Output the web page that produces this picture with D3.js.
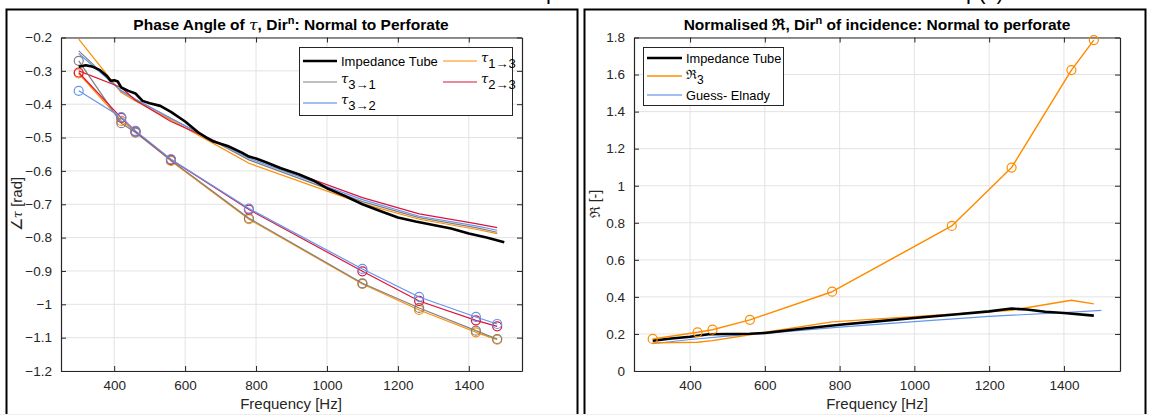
<!DOCTYPE html>
<html><head><meta charset="utf-8">
<script src="https://cdn.jsdelivr.net/npm/d3@7"></script>
<style>body{margin:0;background:#fff;} svg{display:block;} text{font-family:Arial,"Liberation Sans",Helvetica,sans-serif;}</style>
</head><body>
<svg id="c" width="1149" height="415"></svg>
<script>
// ---------- DATA ----------
const freqs = [300, 420, 460, 560, 780, 1100, 1260, 1420, 1480];
const xTicks = [400, 600, 800, 1000, 1200, 1400];
const yTicksLeft = [-1.2, -1.1, -1, -0.9, -0.8, -0.7, -0.6, -0.5, -0.4, -0.3, -0.2];
const yTicksRight = [0, 0.2, 0.4, 0.6, 0.8, 1, 1.2, 1.4, 1.6, 1.8];

// Left panel: impedance tube phase
const tubeFreqL = [300,320,340,360,380,390,400,410,420,440,460,480,500,530,560,600,640,660,680,720,760,780,800,830,870,920,960,1000,1050,1100,1150,1200,1250,1300,1350,1400,1450,1500];
const tubePhase = [-0.288,-0.283,-0.288,-0.298,-0.316,-0.330,-0.328,-0.332,-0.350,-0.360,-0.368,-0.390,-0.397,-0.405,-0.423,-0.452,-0.487,-0.500,-0.512,-0.525,-0.545,-0.557,-0.563,-0.575,-0.592,-0.610,-0.628,-0.652,-0.675,-0.700,-0.720,-0.740,-0.752,-0.762,-0.773,-0.788,-0.800,-0.814];
// upper group (no markers)
const tau13Up = [-0.205,-0.365,-0.390,-0.447,-0.577,-0.698,-0.745,-0.775,-0.788];
const tau31Up = [-0.240,-0.360,-0.385,-0.442,-0.567,-0.692,-0.740,-0.770,-0.784];
const tau32Up = [-0.248,-0.360,-0.385,-0.443,-0.562,-0.686,-0.736,-0.765,-0.778];
const tau23Up = [-0.300,-0.350,-0.388,-0.452,-0.556,-0.680,-0.729,-0.758,-0.770];
// lower group (with markers)
const tau13Lo = [-0.308,-0.450,-0.483,-0.570,-0.745,-0.939,-1.017,-1.084,-1.106];
const tau31Lo = [-0.270,-0.457,-0.485,-0.568,-0.742,-0.937,-1.011,-1.079,-1.104];
const tau32Lo = [-0.360,-0.439,-0.480,-0.565,-0.713,-0.894,-0.978,-1.038,-1.059];
const tau23Lo = [-0.305,-0.441,-0.481,-0.566,-0.716,-0.901,-0.990,-1.048,-1.066];

// Right panel
const tubeFreqR = [300,350,400,450,500,560,600,700,800,900,1000,1100,1200,1260,1300,1350,1400,1480];
const tubeRe = [0.164,0.175,0.185,0.198,0.200,0.201,0.205,0.228,0.250,0.268,0.286,0.304,0.322,0.337,0.332,0.320,0.313,0.299];
const re3 = [0.173,0.209,0.223,0.276,0.428,0.783,1.098,1.624,1.786];
const re3b = [0.152,0.155,0.164,0.196,0.265,0.307,0.328,0.382,0.362];
const guessFreq = [300,400,500,600,800,1000,1200,1400,1500];
const guessRe = [0.147,0.170,0.188,0.203,0.237,0.267,0.295,0.315,0.327];

const C = {black:"#000000", orange:"#FF8C00", gray:"#808080", crimson:"#DC143C", blue:"#6495ED"};
const axisCol = "#262626";

const svg = d3.select("#c");

// top cut-off caption glyphs (cropped in the reference as well)
svg.append("text").attr("x",546).attr("y",-1).attr("font-family","'DejaVu Serif',serif").attr("font-size",22).text("p");
svg.append("text").attr("x",966).attr("y",-1).attr("font-family","'DejaVu Serif',serif").attr("font-size",22).text("p(c)");

// panel frames
svg.append("rect").attr("x",6.5).attr("y",9.5).attr("width",571).attr("height",420).attr("fill","none").attr("stroke","#000").attr("stroke-width",2);
svg.append("rect").attr("x",584.5).attr("y",9.5).attr("width",561).attr("height",420).attr("fill","none").attr("stroke","#000").attr("stroke-width",2);

function panel(opt){
  const g = svg.append("g");
  const x = d3.scaleLinear().domain([250,1550]).range([opt.x0,opt.x1]);
  const y = d3.scaleLinear().domain(opt.yd).range([371,37.5]);
  g.append("g").selectAll("line").data(xTicks).join("line")
    .attr("x1",d=>x(d)).attr("x2",d=>x(d)).attr("y1",37.5).attr("y2",371)
    .attr("stroke","#e3e3e3").attr("stroke-width",1);
  g.append("g").selectAll("line").data(opt.yt).join("line")
    .attr("x1",opt.x0).attr("x2",opt.x1).attr("y1",d=>y(d)).attr("y2",d=>y(d))
    .attr("stroke","#e3e3e3").attr("stroke-width",1);
  const fmt = d=>d3.format("~g")(+d.toFixed(2));
  const ab = g.append("g").attr("transform","translate(0,371)").call(d3.axisBottom(x).tickValues(xTicks).tickSizeInner(-5).tickSizeOuter(0).tickPadding(9).tickFormat(d3.format("d")));
  const at = g.append("g").attr("transform","translate(0,37.5)").call(d3.axisTop(x).tickValues(xTicks).tickSizeInner(-5).tickSizeOuter(0).tickFormat(""));
  const al = g.append("g").attr("transform",`translate(${opt.x0},0)`).call(d3.axisLeft(y).tickValues(opt.yt).tickSizeInner(-5).tickSizeOuter(0).tickPadding(9).tickFormat(fmt));
  const ar = g.append("g").attr("transform",`translate(${opt.x1},0)`).call(d3.axisRight(y).tickValues(opt.yt).tickSizeInner(-5).tickSizeOuter(0).tickFormat(""));
  [ab,at,al,ar].forEach(a=>{
    a.select(".domain").attr("stroke",axisCol).attr("stroke-width",1.2);
    a.selectAll(".tick line").attr("stroke",axisCol);
    a.selectAll(".tick text").attr("fill",axisCol).attr("font-size",13.5).attr("font-family","Arial,'Liberation Sans',sans-serif");
  });
  return {g,x,y};
}

function drawLine(p, xs, ys, color, w, markers){
  const data = xs.map((f,i)=>[f,ys[i]]);
  p.g.append("path").datum(data).attr("fill","none").attr("stroke",color).attr("stroke-width",w)
    .attr("stroke-linejoin","round").attr("d",d3.line().x(d=>p.x(d[0])).y(d=>p.y(d[1])));
  if(markers){
    p.g.append("g").selectAll("circle").data(data).join("circle")
      .attr("cx",d=>p.x(d[0])).attr("cy",d=>p.y(d[1])).attr("r",4.5)
      .attr("fill","none").attr("stroke",color).attr("stroke-width",1.2);
  }
}

// ---------- LEFT ----------
const L = panel({x0:61, x1:522, yd:[-1.2,-0.2], yt:yTicksLeft});
drawLine(L, freqs, tau13Up, C.orange, 1.2, false);
drawLine(L, freqs, tau31Up, C.gray, 1.2, false);
drawLine(L, freqs, tau32Up, C.blue, 1.2, false);
drawLine(L, freqs, tau23Up, C.crimson, 1.2, false);
drawLine(L, freqs, tau13Lo, C.orange, 1.2, true);
drawLine(L, freqs, tau31Lo, C.gray, 1.2, true);
drawLine(L, freqs, tau23Lo, C.crimson, 1.2, true);
drawLine(L, freqs, tau32Lo, C.blue, 1.2, true);
drawLine(L, tubeFreqL, tubePhase, C.black, 2.6, false);

const t1 = svg.append("text").attr("x",291).attr("y",30).attr("text-anchor","middle").attr("font-size",15.5).attr("font-weight","bold");
t1.append("tspan").text("Phase Angle of ");
t1.append("tspan").attr("font-family","'DejaVu Serif',serif").attr("font-style","italic").attr("font-weight","normal").text("τ");
t1.append("tspan").text(", Dir");
t1.append("tspan").attr("font-size",11).attr("dy",-6).text("n");
t1.append("tspan").attr("dy",6).text(": Normal to Perforate");

svg.append("text").attr("x",291).attr("y",409).attr("text-anchor","middle").attr("font-size",15).attr("fill",axisCol).text("Frequency [Hz]");
const yl = svg.append("text").attr("transform","translate(22,204) rotate(-90)").attr("text-anchor","middle").attr("font-size",15).attr("fill",axisCol);
yl.append("tspan").text("∠");
yl.append("tspan").attr("font-family","'DejaVu Serif',serif").attr("font-style","italic").attr("font-size",13).text("τ");
yl.append("tspan").text(" [rad]");

// left legend
const lg = svg.append("g");
lg.append("rect").attr("x",299.5).attr("y",47.5).attr("width",213).attr("height",68).attr("fill","#fff").attr("stroke",axisCol).attr("stroke-width",1);
const legL = [
  {c:C.black,w:2.6,x:303,y:61,lab:"Impedance Tube",sub:null},
  {c:C.gray,w:1.2,x:303,y:82,lab:"τ",sub:"3→1"},
  {c:C.blue,w:2,x:303,y:103,lab:"τ",sub:"3→2"},
  {c:C.orange,w:1.2,x:443,y:61,lab:"τ",sub:"1→3"},
  {c:C.crimson,w:1.2,x:443,y:82,lab:"τ",sub:"2→3"}
];
legL.forEach(e=>{
  lg.append("line").attr("x1",e.x).attr("x2",e.x+34).attr("y1",e.y).attr("y2",e.y).attr("stroke",e.c).attr("stroke-width",e.w).attr("stroke-opacity",e.c===C.blue?0.6:1);
  if(e.sub){
    const t = lg.append("text").attr("x",e.x+38).attr("y",e.y+1).attr("font-size",13).attr("fill","#000");
    t.append("tspan").attr("font-family","'DejaVu Serif',serif").attr("font-style","italic").text(e.lab);
    t.append("tspan").attr("font-size",13).attr("dy",6).text(e.sub);
  } else {
    lg.append("text").attr("x",e.x+38).attr("y",e.y+4.5).attr("font-size",13).attr("fill","#000").text(e.lab);
  }
});

// ---------- RIGHT ----------
const R = panel({x0:634, x1:1120, yd:[0,1.8], yt:yTicksRight});
drawLine(R, guessFreq, guessRe, C.blue, 1.2, false);
drawLine(R, freqs, re3b, C.orange, 1.4, false);
drawLine(R, tubeFreqR, tubeRe, C.black, 2.6, false);
drawLine(R, freqs, re3, C.orange, 1.5, true);

const t2 = svg.append("text").attr("x",877).attr("y",30).attr("text-anchor","middle").attr("font-size",15.5).attr("font-weight","bold");
t2.append("tspan").text("Normalised ℜ, Dir");
t2.append("tspan").attr("font-size",11).attr("dy",-6).text("n");
t2.append("tspan").attr("dy",6).text(" of incidence: Normal to perforate");

svg.append("text").attr("x",877).attr("y",409).attr("text-anchor","middle").attr("font-size",15).attr("fill",axisCol).text("Frequency [Hz]");
svg.append("text").attr("transform","translate(600,204) rotate(-90)").attr("text-anchor","middle").attr("font-size",14).attr("fill",axisCol).text("ℜ [-]");

const rg = svg.append("g");
rg.append("rect").attr("x",643.5).attr("y",47.5).attr("width",140).attr("height",58).attr("fill","#fff").attr("stroke",axisCol).attr("stroke-width",1);
const legR = [
  {c:C.black,w:2.6,y:58,lab:"Impedance Tube",sub:null},
  {c:C.orange,w:1.5,y:76,lab:"ℜ",sub:"3"},
  {c:C.blue,w:2,y:95,lab:"Guess- Elnady",sub:null}
];
legR.forEach(e=>{
  rg.append("line").attr("x1",647).attr("x2",682).attr("y1",e.y).attr("y2",e.y).attr("stroke",e.c).attr("stroke-width",e.w).attr("stroke-opacity",e.c===C.blue?0.6:1);
  const t = rg.append("text").attr("x",686).attr("y",e.y+4.5).attr("font-size",12.8).attr("fill","#000");
  if(e.sub){
    t.append("tspan").attr("dy",-2).text(e.lab);
    t.append("tspan").attr("font-size",12).attr("dy",5).text(e.sub);
  } else t.text(e.lab);
});

svg.append("line").attr("x1",0).attr("x2",1149).attr("y1",414.5).attr("y2",414.5).attr("stroke","#eeeeee");
</script>
</body></html>
